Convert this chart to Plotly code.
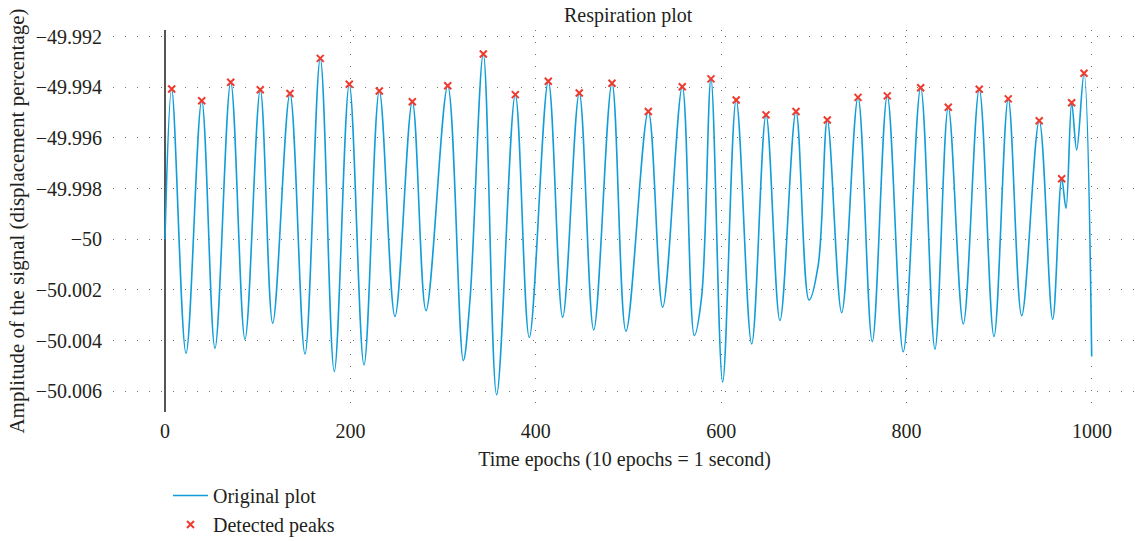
import plotly.graph_objects as go

# ---- data ----
start_x = [0.0]
start_y = [-50.0]

peak_x = [7.2, 39.6, 70.9, 102.8, 134.8, 167.5, 198.8, 231.2, 266.8, 305.0,
          343.4, 377.9, 413.5, 446.9, 482.2, 521.4, 558.0, 589.0, 616.2, 648.4,
          680.7, 714.5, 747.6, 779.2, 815.2, 845.0, 878.4, 909.7, 943.1, 967.3,
          978.1, 991.4]
peak_y = [-49.99407, -49.99453, -49.99380, -49.99410, -49.99425, -49.99286,
          -49.99388, -49.99415, -49.99457, -49.99394, -49.99269, -49.99429,
          -49.99376, -49.99423, -49.99384, -49.99496, -49.99398, -49.99367,
          -49.99450, -49.99509, -49.99496, -49.99529, -49.99440, -49.99434,
          -49.99402, -49.99479, -49.99408, -49.99446, -49.99532, -49.99761,
          -49.99461, -49.99345]

trough_x = [22.7, 53.9, 86.3, 116.2, 151.0, 182.6, 214.7, 248.1, 281.6, 321.8,
            357.8, 393.0, 429.0, 462.5, 497.3, 536.9, 571.0, 601.6, 632.9, 663.4,
            694.7, 730.0, 763.0, 796.4, 830.6, 861.2, 894.3, 924.2, 957.6, 972.0,
            983.5]
trough_y = [-50.00450, -50.00430, -50.00395, -50.00331, -50.00453, -50.00522,
            -50.00496, -50.00305, -50.00282, -50.00479, -50.00614, -50.00388,
            -50.00308, -50.00358, -50.00363, -50.00268, -50.00380, -50.00564,
            -50.00413, -50.00321, -50.00240, -50.00290, -50.00404, -50.00444,
            -50.00434, -50.00334, -50.00384, -50.00302, -50.00316, -49.99878,
            -49.99648]

shoulder_x = [329.0, 578.9, 704.7]
shoulder_y = [-50.00240, -50.00227, -50.00101]

end_x = [999.7]
end_y = [-50.00463]

y_tickvals = [-49.992, -49.994, -49.996, -49.998, -50.0, -50.002, -50.004, -50.006]
y_ticktext = ["\u221249.992", "\u221249.994", "\u221249.996", "\u221249.998",
              "\u221250", "\u221250.002", "\u221250.004", "\u221250.006"]
x_tickvals = [0, 200, 400, 600, 800, 1000]

# ---- build the signal from the read vertices (sorted by time) ----
pts = sorted(zip(start_x + peak_x + trough_x + shoulder_x + end_x,
                 start_y + peak_y + trough_y + shoulder_y + end_y))
sig_x = [p[0] for p in pts]
sig_y = [p[1] for p in pts]

FONT = "Liberation Serif"
TXT = "#231f20"
FS = 20

fig = go.Figure()
fig.add_trace(go.Scatter(
    x=sig_x, y=sig_y, mode="lines", name="Original plot",
    line=dict(color="#109dd9", width=1.6, shape="spline", smoothing=1.0),
))
fig.add_trace(go.Scatter(
    x=peak_x, y=peak_y, mode="markers", name="Detected peaks",
    marker=dict(symbol="x-thin", size=7, line=dict(color="#ee3b2f", width=2),
                color="#ee3b2f"),
))

fig.update_layout(
    width=1136, height=541,
    margin=dict(l=113, r=0, t=30, b=129, autoexpand=False),
    paper_bgcolor="white", plot_bgcolor="white",
    font=dict(family=FONT, size=FS, color=TXT),
    title=dict(text="Respiration plot", x=0.553, xref="container", xanchor="center",
               y=1 - 15 / 541, yref="container", yanchor="middle",
               font=dict(family=FONT, size=FS, color=TXT)),
    showlegend=True,
    legend=dict(x=(168 - 113) / 1023, xanchor="left",
                y=1 - 476 / 541, yref="container", yanchor="top",
                itemwidth=35,
                bgcolor="rgba(0,0,0,0)", font=dict(family=FONT, size=FS, color=TXT),
                tracegroupgap=0),
)
fig.update_xaxes(
    range=[-56.1, 1047.5], tickvals=x_tickvals, automargin=False,
    showgrid=True, gridcolor="#6e6e6e", gridwidth=1, griddash="1px,11px",
    zeroline=True, zerolinecolor="#555555", zerolinewidth=2,
    showline=False, ticks="", ticklabelstandoff=5,
    title=dict(text="Time epochs (10 epochs = 1 second)", standoff=10,
               font=dict(family=FONT, size=FS, color=TXT)),
)
fig.update_yaxes(
    range=[-50.00682, -49.99174], tickvals=y_tickvals, ticktext=y_ticktext,
    automargin=False,
    showgrid=True, gridcolor="#6e6e6e", gridwidth=1, griddash="1px,11px",
    zeroline=False, showline=False, ticks="", ticklabelstandoff=10,
    title=dict(text="Amplitude of the signal (displacement percentage)", standoff=5,
               font=dict(family=FONT, size=21, color=TXT)),
)

fig.write_html("out.html")
